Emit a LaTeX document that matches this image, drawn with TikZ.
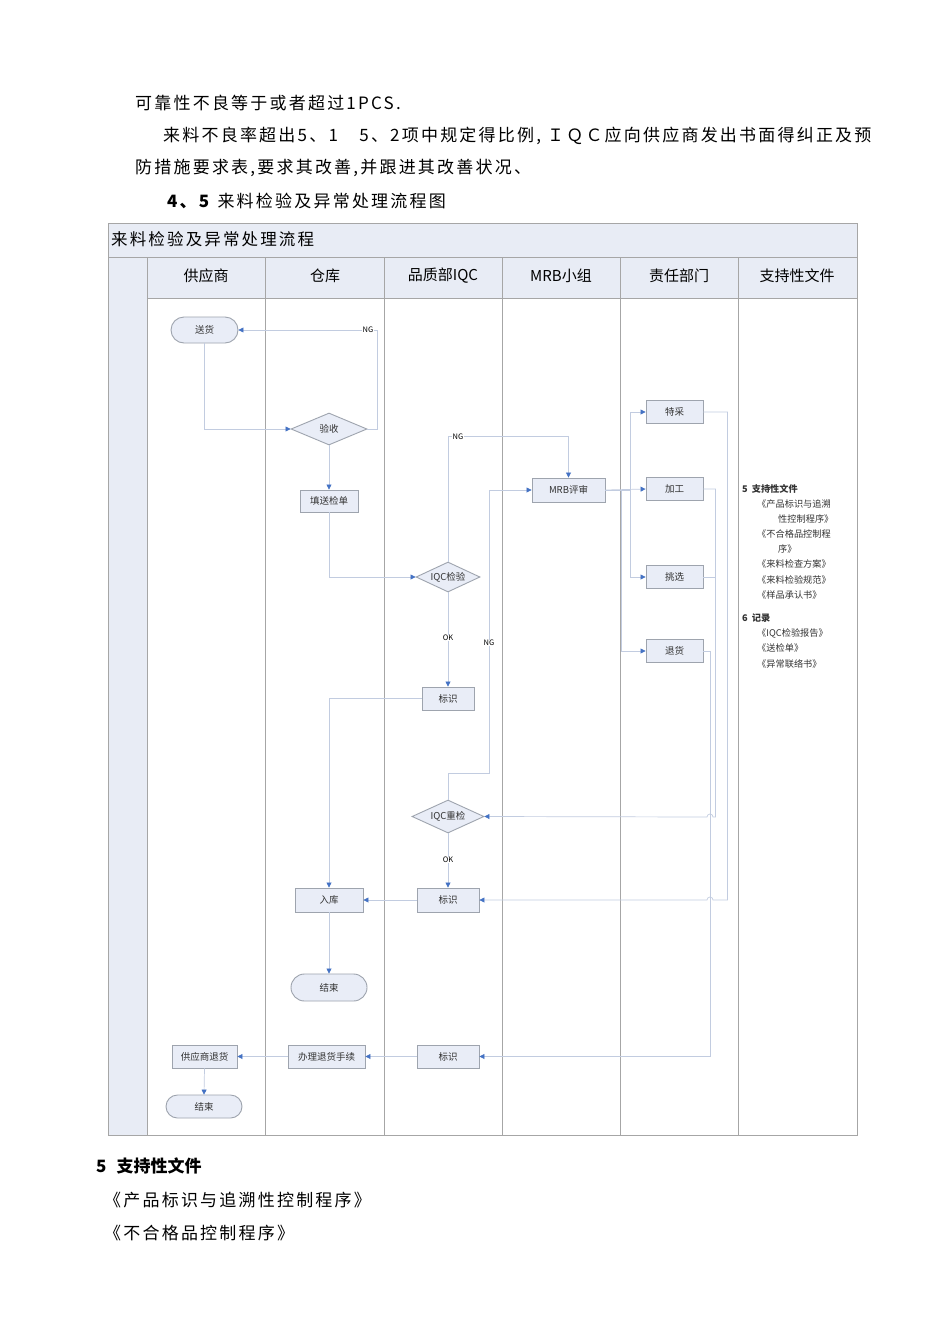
\documentclass[tikz,border=0pt]{standalone}
\usepackage{fontspec}
\setmainfont{Noto Sans CJK SC}
\newfontfamily\bodyfont[LetterSpace=13]{Noto Sans CJK SC}
\usetikzlibrary{arrows.meta,shapes.geometric,shapes.misc}
\definecolor{nodefill}{HTML}{E9EDF7}
\definecolor{nodedraw}{HTML}{9EA4AE}
\definecolor{flowc}{HTML}{C2CCE0}
\definecolor{arrowc}{HTML}{4472C4}
\definecolor{hdrfill}{HTML}{E8ECF5}
\definecolor{gridc}{HTML}{A6A6A6}
\definecolor{txtc}{HTML}{333333}
\tikzset{
  proc/.style={rectangle, draw=nodedraw, fill=nodefill, line width=0.9pt, inner sep=0pt,
    font=\fontsize{9.5}{10}\selectfont, text=txtc, minimum height=23pt},
  term/.style={rounded rectangle, draw=nodedraw, fill=nodefill, line width=0.9pt, inner sep=0pt,
    font=\fontsize{9.5}{10}\selectfont, text=txtc},
  dec/.style={diamond, aspect=2.2, draw=nodedraw, fill=nodefill, line width=0.9pt, inner sep=0pt,
    font=\fontsize{9.5}{10}\selectfont, text=txtc},
  flow/.style={draw=flowc, line width=0.7pt},
  arr/.style={flow, -{Triangle[length=5pt,width=5pt,color=arrowc]}},
  lbl/.style={font=\fontsize{7.5}{8}\selectfont, fill=white, inner sep=0.5pt},
  lane/.style={font=\fontsize{15}{16}\selectfont},
  doc/.style={anchor=west, font=\fontsize{9.2}{10}\selectfont, inner sep=0pt, text=txtc},
  body/.style={anchor=west, font=\bodyfont\fontsize{17}{18}\selectfont, inner sep=0pt},
}
\begin{document}
\begin{tikzpicture}[x=1pt,y=-1pt]
\useasboundingbox (0,0) rectangle (950,1344);
\fill[white] (0,0) rectangle (950,1344);

% text above
\node[body] (t1) at (135,103) {可靠性不良等于或者超过1PCS.};
\node[body] (t2) at (163,136) {来料不良率超出5、1　5、2项中规定得比例, ＩＱＣ应向供应商发出书面得纠正及预};
\node[body] (t3) at (135,168) {防措施要求表,要求其改善,并跟进其改善状况、};
\node[body] (t4) at (167,201) {\textbf{4、5} 来料检验及异常处理流程图};

% table
\fill[hdrfill] (108,223) rectangle (857,298);
\fill[hdrfill] (108,298) rectangle (147,1135);
\draw[gridc, line width=0.8pt] (108,223) rectangle (857,1135);
\draw[gridc, line width=0.8pt] (108,257) -- (857,257);
\draw[gridc, line width=0.8pt] (147,298) -- (857,298);
\foreach \xx in {147,265,384,502,620,738}
  \draw[gridc, line width=0.8pt] (\xx,257) -- (\xx,1135);
\node[anchor=west, font=\bodyfont\fontsize{16.5}{17}\selectfont, inner sep=0pt] (title) at (111,239) {来料检验及异常处理流程};
\node[lane] (h1) at (206,276) {供应商};
\node[lane] (h2) at (325,276) {仓库};
\node[lane] (h3) at (443,276) {品质部IQC};
\node[lane] (h4) at (561,276) {MRB小组};
\node[lane] (h5) at (679,276) {责任部门};
\node[lane] (h6) at (797,276) {支持性文件};

% nodes
\node[term, minimum width=67pt, minimum height=26pt] (songhuo) at (204.5,330) {送货};
\node[dec, minimum width=76pt, minimum height=32pt] (yanshou) at (329,429) {验收};
\node[proc, minimum width=58pt, minimum height=22pt] (songjian) at (329,501) {填送检单};
\node[dec, minimum width=64pt, minimum height=30pt] (iqc) at (448,577) {IQC检验};
\node[proc, minimum width=73pt, minimum height=24pt] (mrb) at (568.5,490) {MRB评审};
\node[proc, minimum width=57pt] (tecai) at (674.5,412) {特采};
\node[proc, minimum width=57pt] (jiagong) at (674.5,489) {加工};
\node[proc, minimum width=57pt] (tiaoxuan) at (674.5,577) {挑选};
\node[proc, minimum width=57pt] (tuihuo) at (674.5,651) {退货};
\node[proc, minimum width=52pt] (mark1) at (448,698.5) {标识};
\node[dec, minimum width=72pt, minimum height=33pt] (recheck) at (448,816.5) {IQC重检};
\node[proc, minimum width=62pt, minimum height=24pt] (mark2) at (448,900) {标识};
\node[proc, minimum width=68pt, minimum height=24pt] (ruku) at (329,900) {入库};
\node[term, minimum width=76pt, minimum height=27pt] (end1) at (329,987.5) {结束};
\node[proc, minimum width=62pt] (mark3) at (448,1056.5) {标识};
\node[proc, minimum width=77pt] (banli) at (326.5,1056.5) {办理退货手续};
\node[proc, minimum width=65pt] (gysth) at (204.5,1056.5) {供应商退货};
\node[term, minimum width=76pt, minimum height=23pt] (end2) at (204,1106.5) {结束};

% connectors
\draw[arr] (songhuo.south) |- (yanshou.west);
\draw[arr] (yanshou.east) -- ++(10,0) |- (songhuo.east);
\draw[arr] (yanshou.south) -- (songjian.north);
\draw[arr] (songjian.south) |- (iqc.west);
\draw[arr] (iqc.north) -- ++(0,-125) -| (mrb.north);
\draw[arr] (iqc.south) -- (mark1.north);
\draw[arr] (mark1.west) -| (ruku.north);
\draw[arr] (recheck.north) -- ++(0,-26) -- ++(41,0) |- (mrb.west);
\draw[arr] (mrb.east) -- (jiagong.west);
\draw[arr] (mrb.east) -- ++(25,0) |- (tecai.west);
\draw[arr] (mrb.east) -- ++(25,0) |- (tiaoxuan.west);
\draw[arr] (mrb.east) -- ++(16,0) |- (tuihuo.west);
\draw[arr] (tecai.east) -- ++(24,0) |- (713,900) arc[start angle=0,end angle=-180,radius=3] -- (mark2.east);
\draw[arr] (jiagong.east) -- ++(12,0) |- (713,817) arc[start angle=0,end angle=-180,radius=3] -- (recheck.east);
\draw[flow] (tiaoxuan.east) -- ++(12,0);
\draw[arr] (tuihuo.east) -- ++(7,0) |- (mark3.east);
\draw[arr] (recheck.south) -- (mark2.north);
\draw[arr] (mark2.west) -- (ruku.east);
\draw[arr] (ruku.south) -- (end1.north);
\draw[arr] (mark3.west) -- (banli.east);
\draw[arr] (banli.west) -- (gysth.east);
\draw[arr] (gysth.south) -- (end2.north);

% labels
\node[lbl] (ng1) at (368,330) {NG};
\node[lbl] (ng2) at (458,437) {NG};
\node[lbl] (ok1) at (448,638) {OK};
\node[lbl] (ng3) at (489,643) {NG};
\node[lbl] (ok2) at (448,860) {OK};

% supporting docs column
\node[doc, font=\fontsize{9.2}{10}\selectfont\bfseries] (d1) at (742,489) {5\hspace{4pt}支持性文件};
\node[doc] (d2) at (757,504) {《产品标识与追溯};
\node[doc] (d3) at (778,519) {性控制程序》};
\node[doc] (d4) at (757,534) {《不合格品控制程};
\node[doc] (d5) at (778,549) {序》};
\node[doc] (d6) at (757,564) {《来料检查方案》};
\node[doc] (d7) at (757,580) {《来料检验规范》};
\node[doc] (d8) at (757,595) {《样品承认书》};
\node[doc, font=\fontsize{9.2}{10}\selectfont\bfseries] (d9) at (742,618) {6\hspace{4pt}记录};
\node[doc] (d10) at (757,633) {《IQC检验报告》};
\node[doc] (d11) at (757,648) {《送检单》};
\node[doc] (d12) at (757,664) {《异常联络书》};

% text below
\node[body, font=\fontsize{17}{18}\selectfont\bfseries] (b1) at (96,1166) {5\hspace{10pt}支持性文件};
\node[body] (b2) at (104,1200) {《产品标识与追溯性控制程序》};
\node[body] (b3) at (104,1233) {《不合格品控制程序》};
\end{tikzpicture}
\end{document}
